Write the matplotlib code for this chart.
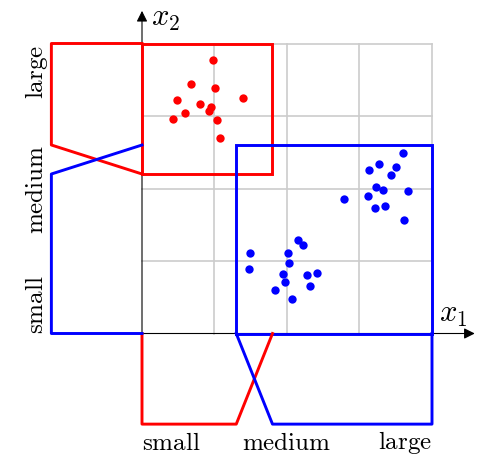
import matplotlib
matplotlib.use("Agg")
import matplotlib.pyplot as plt

plt.rcParams["mathtext.fontset"] = "cm"

# Sample points of the two classes
red_x = [0.975, 0.671, 1.003, 1.398, 0.478, 0.795, 0.956, 0.924, 0.598, 0.428, 1.030, 1.076]
red_y = [3.766, 3.444, 3.384, 3.255, 3.214, 3.172, 3.127, 3.071, 3.039, 2.961, 2.942, 2.694]

blue_x = [3.596, 3.269, 3.131, 3.499, 3.434, 3.232, 3.324, 3.669, 3.122, 2.782, 3.214, 3.347,
          3.618, 2.156, 2.225, 1.490, 2.009, 2.028, 1.476, 1.945, 2.418, 2.271, 1.977, 2.313,
          1.830, 2.064]
blue_y = [2.483, 2.340, 2.262, 2.303, 2.189, 2.023, 1.982, 1.972, 1.894, 1.857, 1.733, 1.752,
          1.559, 1.283, 1.223, 1.113, 1.108, 0.970, 0.883, 0.814, 0.832, 0.805, 0.717, 0.662,
          0.602, 0.473]

# Rule boxes: (x_min, x_max, y_min, y_max)
red_box = (0.0, 1.8, 2.2, 4.0)
blue_box = (1.3, 4.0, 0.0, 2.6)

# Membership function breakpoints along each axis
x1_red_mf = [(0.0, 0.0), (0.0, 1.0), (1.3, 1.0), (1.8, 0.0)]
x1_blue_mf = [(1.3, 0.0), (1.8, 1.0), (4.0, 1.0), (4.0, 0.0)]
x2_red_mf = [(4.0, 0.0), (4.0, 1.0), (2.6, 1.0), (2.2, 0.0)]
x2_blue_mf = [(2.6, 0.0), (2.2, 1.0), (0.0, 1.0), (0.0, 0.0)]

categories = ["small", "medium", "large"]
category_pos = [0.0, 2.0, 4.0]

RED = "#ff0000"
BLUE = "#0000ff"
MF_DEPTH = 1.25
LW = 2.1

fig = plt.figure(figsize=(4.85, 4.56), dpi=100)
ax = fig.add_axes([0, 0, 1, 1])
ax.set_xlim(-142 / 72.5, (485 - 142) / 72.5)
ax.set_ylim((334.5 - 456) / 72.5, 334.5 / 72.5)
ax.axis("off")

# grid
for g in [1, 2, 3, 4]:
    ax.plot([g, g], [0, 4], color="#cccccc", lw=1.2, zorder=1)
    ax.plot([0, 4], [g, g], color="#cccccc", lw=1.2, zorder=1)

# axes with arrows
ax.annotate("", xy=(4.59, 0), xytext=(0, 0),
            arrowprops=dict(arrowstyle="-|>", color="k", lw=0.8, mutation_scale=16,
                            shrinkA=0, shrinkB=0), zorder=2)
ax.annotate("", xy=(0, 4.45), xytext=(0, 0),
            arrowprops=dict(arrowstyle="-|>", color="k", lw=0.8, mutation_scale=16,
                            shrinkA=0, shrinkB=0), zorder=2)
ax.text(0.13, 4.36, r"$x_2$", fontsize=22, ha="left", va="center")
ax.text(4.1, 0.27, r"$x_1$", fontsize=22, ha="left", va="center")


def draw_box(b, c):
    x0, x1, y0, y1 = b
    ax.plot([x0, x1, x1, x0, x0], [y0, y0, y1, y1, y0], color=c, lw=LW, zorder=3,
            solid_joinstyle="miter")


draw_box(red_box, RED)
draw_box(blue_box, BLUE)

# membership functions below the x1 axis
for mf, c in [(x1_red_mf, RED), (x1_blue_mf, BLUE)]:
    ax.plot([p[0] for p in mf], [-MF_DEPTH * p[1] for p in mf], color=c, lw=LW, zorder=3)
# membership functions left of the x2 axis
for mf, c in [(x2_red_mf, RED), (x2_blue_mf, BLUE)]:
    ax.plot([-MF_DEPTH * p[1] for p in mf], [p[0] for p in mf], color=c, lw=LW, zorder=3)

# points
ax.scatter(red_x, red_y, s=36, color=RED, zorder=4, linewidths=0)
ax.scatter(blue_x, blue_y, s=36, color=BLUE, zorder=4, linewidths=0)

# category labels
has = ["left", "center", "right"]
vas = ["bottom", "center", "top"]
for lab, pos, ha, va in zip(categories, category_pos, has, vas):
    ax.text(pos, -1.49, r"$\mathrm{%s}$" % lab, fontsize=18, ha=ha, va="center")
    ax.text(-1.46, pos, r"$\mathrm{%s}$" % lab, fontsize=18, ha="center", va=va,
            rotation=90)

fig.savefig("out.png", dpi=100)
